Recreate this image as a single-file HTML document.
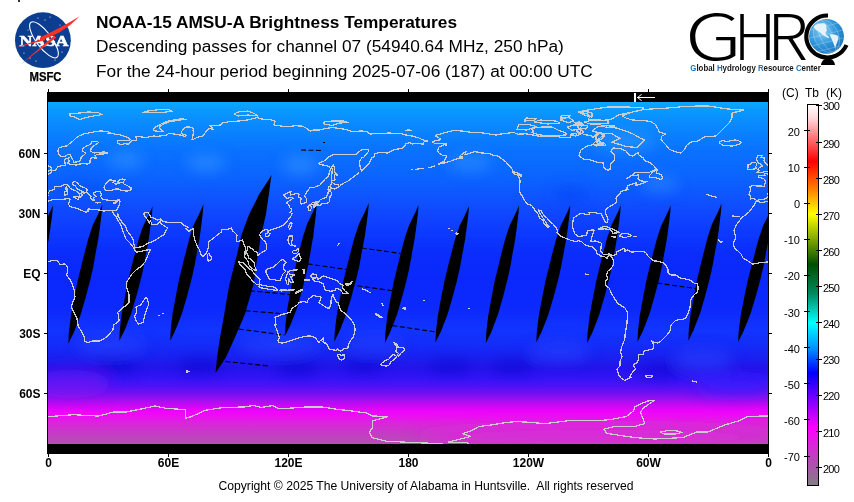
<!DOCTYPE html>
<html><head><meta charset="utf-8">
<style>
html,body{margin:0;padding:0;background:#fff;width:854px;height:502px;overflow:hidden}
svg{display:block}
</style></head>
<body>
<svg width="854" height="502" viewBox="0 0 854 502" font-family="'Liberation Sans', Arial, sans-serif">
<defs>
<linearGradient id="bg" x1="0" y1="102" x2="0" y2="444" gradientUnits="userSpaceOnUse">
<stop offset="0.0000" stop-color="#0aa8ff"/>
<stop offset="0.0234" stop-color="#0a9aff"/>
<stop offset="0.0526" stop-color="#0a8eff"/>
<stop offset="0.0965" stop-color="#0a80ff"/>
<stop offset="0.1404" stop-color="#0a72ff"/>
<stop offset="0.1842" stop-color="#0a6aff"/>
<stop offset="0.2281" stop-color="#0c62ff"/>
<stop offset="0.2719" stop-color="#0e56ff"/>
<stop offset="0.3304" stop-color="#1046ff"/>
<stop offset="0.3889" stop-color="#0c38ff"/>
<stop offset="0.4474" stop-color="#0a2cfc"/>
<stop offset="0.5205" stop-color="#0a28fc"/>
<stop offset="0.6082" stop-color="#0c2afc"/>
<stop offset="0.6667" stop-color="#1234ff"/>
<stop offset="0.7105" stop-color="#142cf8"/>
<stop offset="0.7485" stop-color="#1a20f0"/>
<stop offset="0.7778" stop-color="#2414ea"/>
<stop offset="0.8041" stop-color="#3014f6"/>
<stop offset="0.8304" stop-color="#4c12f6"/>
<stop offset="0.8509" stop-color="#7010f2"/>
<stop offset="0.8684" stop-color="#9810f0"/>
<stop offset="0.8860" stop-color="#c808f4"/>
<stop offset="0.9064" stop-color="#f004fc"/>
<stop offset="0.9240" stop-color="#e814ee"/>
<stop offset="0.9415" stop-color="#d828d8"/>
<stop offset="0.9766" stop-color="#c040c0"/>
<stop offset="1.0000" stop-color="#b450b4"/>
</linearGradient>
<linearGradient id="cb" x1="0" y1="104" x2="0" y2="486" gradientUnits="userSpaceOnUse">
<stop offset="0" stop-color="#ffffff"/>
<stop offset="0.035" stop-color="#ffdce0"/>
<stop offset="0.15" stop-color="#ff0000"/>
<stop offset="0.223" stop-color="#ff8000"/>
<stop offset="0.288" stop-color="#ffff00"/>
<stop offset="0.42" stop-color="#005000"/>
<stop offset="0.497" stop-color="#008a60"/>
<stop offset="0.573" stop-color="#00ffff"/>
<stop offset="0.64" stop-color="#0090ff"/>
<stop offset="0.704" stop-color="#0000ff"/>
<stop offset="0.848" stop-color="#ff00ff"/>
<stop offset="1" stop-color="#808080"/>
</linearGradient>
<filter id="blur" x="-20%" y="-20%" width="140%" height="140%"><feGaussianBlur stdDeviation="7"/></filter>
<clipPath id="mapclip"><rect x="48" y="102" width="720" height="342"/></clipPath>
</defs>

<!-- NASA logo -->
<rect x="18" y="0" width="2" height="2" fill="#333"/>
<circle cx="42.9" cy="40.2" r="27.9" fill="#0b3d91"/>
<g fill="#fff"><circle cx="38" cy="18" r="0.6"/><circle cx="45" cy="20" r="0.6"/><circle cx="50" cy="17" r="0.6"/><circle cx="24" cy="53" r="0.6"/><circle cx="30" cy="58" r="0.6"/><circle cx="36" cy="61" r="0.6"/><circle cx="62" cy="52" r="0.6"/><circle cx="55" cy="60" r="0.6"/><circle cx="28" cy="30" r="0.5"/><circle cx="60" cy="25" r="0.5"/></g>
<ellipse cx="44" cy="39.8" rx="21.8" ry="7.6" transform="rotate(53.4 44 39.8)" fill="none" stroke="#fff" stroke-width="1.1"/>
<text x="19.5" y="45.6" font-family="'Liberation Serif', serif" font-weight="bold" font-size="14.8" fill="#fff" stroke="#fff" stroke-width="0.5" textLength="49" lengthAdjust="spacingAndGlyphs">NASA</text>
<path d="M79.8,16.2 Q62,27 40,37.5 L40,40 Q61.5,35 79.8,16.2Z M45,38 L13.1,48.3 L45,40.2Z M54.3,35.4 L20.6,64.5 L56.3,37.4Z" fill="#f83224"/>
<text x="45.5" y="80.7" font-weight="bold" font-size="12" fill="#000" stroke="#000" stroke-width="0.25" text-anchor="middle" textLength="32" lengthAdjust="spacingAndGlyphs">MSFC</text>

<!-- Titles -->
<text x="96" y="28" font-weight="bold" font-size="17.27" fill="#000">NOAA-15 AMSU-A Brightness Temperatures</text>
<text x="96" y="52" font-size="17.3" fill="#000">Descending passes for channel 07 (54940.64 MHz, 250 hPa)</text>
<text x="96" y="77" font-size="17.25" fill="#000">For the 24-hour period beginning 2025-07-06 (187) at 00:00 UTC</text>

<!-- GHRC logo -->
<g font-family="'Noto Sans CJK JP', 'DejaVu Sans', sans-serif" font-weight="300" font-size="63" fill="#000">
<text x="685" y="60" textLength="57" lengthAdjust="spacingAndGlyphs">G</text>
<text x="734" y="60" textLength="42" lengthAdjust="spacingAndGlyphs">H</text>
<text x="767" y="60" textLength="41" lengthAdjust="spacingAndGlyphs">R</text>
</g>
<path d="M828,15.5 A21,21 0 1 0 846.5,45.0" fill="none" stroke="#000" stroke-width="4.2"/>
<defs><radialGradient id="globe" cx="0.38" cy="0.35" r="0.7"><stop offset="0" stop-color="#86cdf2"/><stop offset="0.55" stop-color="#3298dc"/><stop offset="1" stop-color="#1a74bc"/></radialGradient></defs>
<circle cx="826.5" cy="36.3" r="17.4" fill="url(#globe)"/>
<g fill="none" stroke="#fff" stroke-width="0.6" opacity="0.4">
<ellipse cx="826.5" cy="36.3" rx="6" ry="17.2" transform="rotate(-25 826.5 36.3)"/>
<ellipse cx="826.5" cy="36.3" rx="12" ry="17.2" transform="rotate(-25 826.5 36.3)"/>
<path d="M811,30 L842,22 M810,38 L843,30 M812,46 L843,38 M816,52 L840,46"/>
</g>
<path d="M813.5,27 C815,24 820,22.5 825,23.5 C827,25 826,28 827,30.5 C825.5,32 825,33.5 826.5,35 L829.5,37.5 L828,38 C825,36.5 822,34.5 820,32.5 C817.5,31 815,29.5 813.5,27Z M829.5,34.5 C832,33.8 836.5,34.2 838.5,36.5 C838.5,40 836.5,43.5 835,48 C834,44.5 832,39.5 829.5,34.5Z" fill="#e6f2fa"/>
<path d="M821,65 C821.5,61 824,58.5 828,58.5 C832,58.5 834.5,61 835,65Z" fill="#000"/>
<text x="690.3" y="70.9" font-weight="bold" font-size="8.4" fill="#151515" textLength="130.5" lengthAdjust="spacingAndGlyphs"><tspan fill="#1f72ba">G</tspan>lobal <tspan fill="#1f72ba">H</tspan>ydrology <tspan fill="#1f72ba">R</tspan>esource <tspan fill="#1f72ba">C</tspan>enter</text>

<!-- Map -->
<rect x="47" y="92" width="722" height="362" fill="#000"/>
<g clip-path="url(#mapclip)">
<rect x="48" y="102" width="720" height="342" fill="url(#bg)"/>
<g filter="url(#blur)"><ellipse cx="126" cy="160" rx="18" ry="9" fill="#3a9cff" opacity="0.5"/><ellipse cx="206" cy="163" rx="20" ry="9" fill="#3a9cff" opacity="0.5"/><ellipse cx="300" cy="165" rx="18" ry="10" fill="#3a9cff" opacity="0.5"/><ellipse cx="470" cy="163" rx="22" ry="9" fill="#3a9cff" opacity="0.45"/><ellipse cx="660" cy="184" rx="18" ry="9" fill="#3a9cff" opacity="0.4"/><ellipse cx="625" cy="142" rx="30" ry="9" fill="#3aa4ff" opacity="0.45"/><ellipse cx="80" cy="190" rx="30" ry="10" fill="#0848e8" opacity="0.35"/><ellipse cx="570" cy="195" rx="18" ry="10" fill="#0840f0" opacity="0.35"/><ellipse cx="111" cy="345" rx="35" ry="10" fill="#2a48ff" opacity="0.5"/><ellipse cx="280" cy="345" rx="40" ry="10" fill="#2a48ff" opacity="0.5"/><ellipse cx="375" cy="345" rx="30" ry="9" fill="#2a48ff" opacity="0.45"/><ellipse cx="560" cy="352" rx="30" ry="10" fill="#2a48ff" opacity="0.5"/><ellipse cx="703" cy="360" rx="30" ry="12" fill="#2a48ff" opacity="0.5"/><ellipse cx="115" cy="366" rx="22" ry="7" fill="#0808c8" opacity="0.5"/><ellipse cx="200" cy="366" rx="22" ry="7" fill="#0808c8" opacity="0.5"/><ellipse cx="297" cy="368" rx="22" ry="7" fill="#0808c8" opacity="0.5"/><ellipse cx="364" cy="366" rx="20" ry="7" fill="#0808c8" opacity="0.45"/><ellipse cx="450" cy="367" rx="22" ry="7" fill="#0808c8" opacity="0.45"/><ellipse cx="513" cy="367" rx="22" ry="7" fill="#0808c8" opacity="0.45"/><ellipse cx="661" cy="372" rx="22" ry="7" fill="#0808c8" opacity="0.45"/><ellipse cx="70" cy="384" rx="40" ry="14" fill="#8c1cf0" opacity="0.45"/><ellipse cx="600" cy="437" rx="185" ry="12" fill="#e81ce8" opacity="0.6"/><ellipse cx="735" cy="386" rx="40" ry="10" fill="#3020ff" opacity="0.5"/></g>
<path d="M102.3,204.6 100.8,208.1 99.4,211.6 97.8,215.0 96.0,218.5 94.3,222.0 92.6,225.5 91.5,229.0 90.4,232.4 89.2,235.9 88.1,239.4 87.2,242.9 86.3,246.4 85.4,249.8 84.5,253.3 83.6,256.8 82.7,260.3 81.8,263.8 81.0,267.2 80.1,270.7 79.3,274.2 78.4,277.7 77.6,281.2 76.9,284.6 76.2,288.1 75.5,291.6 74.8,295.1 74.1,298.6 73.5,302.0 72.8,305.5 72.2,309.0 71.5,312.5 70.9,316.0 70.5,319.4 70.0,322.9 69.6,326.4 69.2,329.9 68.8,333.4 68.6,336.8 68.5,340.3 68.3,343.8 68.3,343.8 70.0,340.3 71.7,336.8 73.4,333.4 74.8,329.9 76.2,326.4 77.5,322.9 78.9,319.4 80.2,316.0 81.3,312.5 82.3,309.0 83.3,305.5 84.3,302.0 85.4,298.6 86.3,295.1 87.2,291.6 88.1,288.1 89.1,284.6 90.0,281.2 90.8,277.7 91.6,274.2 92.4,270.7 93.2,267.2 93.8,263.8 94.4,260.3 95.0,256.8 95.6,253.3 96.3,249.8 96.9,246.4 97.6,242.9 98.2,239.4 98.7,235.9 99.2,232.4 99.7,229.0 100.2,225.5 100.6,222.0 101.0,218.5 101.5,215.0 101.8,211.6 102.1,208.1Z M152.5,206.3 151.1,209.7 149.6,213.0 148.0,216.4 146.3,219.8 144.6,223.1 143.0,226.5 141.8,229.8 140.7,233.2 139.6,236.6 138.5,239.9 137.6,243.3 136.7,246.7 135.8,250.0 135.0,253.4 134.1,256.7 133.2,260.1 132.4,263.5 131.5,266.8 130.7,270.2 129.9,273.6 129.0,276.9 128.2,280.3 127.5,283.6 126.9,287.0 126.2,290.4 125.5,293.7 124.9,297.1 124.3,300.5 123.6,303.8 123.0,307.2 122.4,310.5 121.7,313.9 121.3,317.3 120.9,320.6 120.5,324.0 120.1,327.4 119.8,330.7 119.6,334.1 119.5,337.4 119.3,340.8 119.3,340.8 121.0,337.4 122.7,334.1 124.4,330.7 125.8,327.4 127.1,324.0 128.4,320.6 129.7,317.3 131.1,313.9 132.1,310.5 133.1,307.2 134.1,303.8 135.1,300.5 136.1,297.1 137.0,293.7 137.9,290.4 138.8,287.0 139.7,283.6 140.6,280.3 141.4,276.9 142.2,273.6 142.9,270.2 143.7,266.8 144.3,263.5 144.9,260.1 145.5,256.7 146.1,253.4 146.8,250.0 147.4,246.7 148.0,243.3 148.6,239.9 149.1,236.6 149.6,233.2 150.0,229.8 150.5,226.5 150.9,223.1 151.3,219.8 151.7,216.4 152.1,213.0 152.3,209.7Z M203.4,204.2 202.0,207.6 200.5,211.0 198.9,214.4 197.2,217.9 195.5,221.3 193.9,224.7 192.7,228.1 191.6,231.5 190.5,234.9 189.4,238.3 188.5,241.8 187.6,245.2 186.7,248.6 185.9,252.0 185.0,255.4 184.1,258.8 183.3,262.3 182.4,265.7 181.6,269.1 180.8,272.5 179.9,275.9 179.1,279.3 178.4,282.7 177.8,286.2 177.1,289.6 176.4,293.0 175.8,296.4 175.2,299.8 174.5,303.2 173.9,306.6 173.3,310.1 172.6,313.5 172.2,316.9 171.8,320.3 171.4,323.7 171.0,327.1 170.7,330.6 170.5,334.0 170.4,337.4 170.2,340.8 170.2,340.8 171.9,337.4 173.6,334.0 175.3,330.6 176.7,327.1 178.0,323.7 179.3,320.3 180.6,316.9 182.0,313.5 183.0,310.1 184.0,306.6 185.0,303.2 186.0,299.8 187.0,296.4 187.9,293.0 188.8,289.6 189.7,286.2 190.6,282.7 191.5,279.3 192.3,275.9 193.1,272.5 193.8,269.1 194.6,265.7 195.2,262.3 195.8,258.8 196.4,255.4 197.0,252.0 197.7,248.6 198.3,245.2 198.9,241.8 199.5,238.3 200.0,234.9 200.5,231.5 200.9,228.1 201.4,224.7 201.8,221.3 202.2,217.9 202.6,214.4 203.0,211.0 203.2,207.6Z M271.5,175.0 268.4,179.9 265.2,184.9 262.1,189.8 258.9,194.8 256.5,199.7 254.0,204.7 251.5,209.6 249.1,214.6 247.2,219.5 245.3,224.5 243.5,229.4 241.6,234.4 240.5,239.3 239.3,244.3 238.2,249.2 237.1,254.2 235.8,259.1 234.6,264.1 233.4,269.0 232.1,273.9 230.8,278.9 229.6,283.8 228.6,288.8 227.7,293.7 226.9,298.7 226.0,303.6 225.2,308.6 224.4,313.5 223.5,318.5 222.6,323.4 221.7,328.4 220.8,333.3 219.9,338.3 219.2,343.2 218.4,348.2 217.7,353.1 217.0,358.1 216.5,363.0 216.0,368.0 215.5,372.9 215.5,372.9 218.8,368.0 222.2,363.0 225.5,358.1 227.9,353.1 230.1,348.2 232.3,343.2 234.6,338.3 236.7,333.3 238.9,328.4 241.0,323.4 243.1,318.5 245.2,313.5 246.6,308.6 248.0,303.6 249.5,298.7 250.9,293.7 252.2,288.8 253.6,283.8 254.4,278.9 254.8,273.9 255.5,269.0 256.3,264.1 257.2,259.1 258.0,254.2 258.8,249.2 259.6,244.3 260.4,239.3 261.3,234.4 262.4,229.4 263.6,224.5 264.7,219.5 265.9,214.6 266.6,209.6 267.3,204.7 268.1,199.7 268.8,194.8 269.5,189.8 270.1,184.9 270.8,179.9Z M316.6,203.6 315.2,206.9 313.8,210.2 312.2,213.5 310.6,216.8 309.0,220.1 307.3,223.4 306.2,226.7 305.2,230.0 304.1,233.3 303.0,236.7 302.2,240.0 301.3,243.3 300.5,246.6 299.6,249.9 298.8,253.2 298.0,256.5 297.2,259.8 296.4,263.1 295.6,266.4 294.8,269.7 294.0,273.0 293.2,276.3 292.6,279.6 292.0,282.9 291.4,286.2 290.7,289.5 290.1,292.8 289.5,296.1 289.0,299.4 288.4,302.8 287.8,306.1 287.2,309.4 286.8,312.7 286.5,316.0 286.1,319.3 285.7,322.6 285.4,325.9 285.3,329.2 285.2,332.5 285.1,335.8 285.1,335.8 286.7,332.5 288.4,329.2 290.0,325.9 291.4,322.6 292.7,319.3 294.0,316.0 295.2,312.7 296.5,309.4 297.5,306.1 298.5,302.8 299.4,299.4 300.4,296.1 301.3,292.8 302.2,289.5 303.1,286.2 303.9,282.9 304.8,279.6 305.7,276.3 306.4,273.0 307.1,269.7 307.9,266.4 308.6,263.1 309.1,259.8 309.7,256.5 310.3,253.2 310.8,249.9 311.4,246.6 312.0,243.3 312.6,240.0 313.2,236.7 313.6,233.3 314.0,230.0 314.4,226.7 314.8,223.4 315.2,220.1 315.6,216.8 316.0,213.5 316.3,210.2 316.4,206.9Z M368.8,202.9 367.3,206.4 365.8,209.8 364.2,213.3 362.5,216.8 360.8,220.3 359.1,223.8 357.9,227.2 356.8,230.7 355.6,234.2 354.4,237.7 353.5,241.1 352.6,244.6 351.7,248.1 350.8,251.6 349.9,255.0 349.0,258.5 348.1,262.0 347.2,265.4 346.3,268.9 345.5,272.4 344.6,275.9 343.7,279.4 343.0,282.8 342.3,286.3 341.6,289.8 340.9,293.2 340.2,296.7 339.6,300.2 338.9,303.7 338.2,307.1 337.6,310.6 336.9,314.1 336.5,317.6 336.0,321.1 335.6,324.5 335.2,328.0 334.8,331.5 334.6,334.9 334.4,338.4 334.2,341.9 334.2,341.9 335.9,338.4 337.6,334.9 339.4,331.5 340.8,328.0 342.2,324.5 343.5,321.1 344.9,317.6 346.2,314.1 347.3,310.6 348.3,307.1 349.4,303.7 350.4,300.2 351.5,296.7 352.4,293.2 353.3,289.8 354.3,286.3 355.2,282.8 356.2,279.4 357.0,275.9 357.8,272.4 358.6,268.9 359.4,265.4 360.0,262.0 360.7,258.5 361.3,255.0 361.9,251.6 362.6,248.1 363.3,244.6 363.9,241.1 364.6,237.7 365.1,234.2 365.6,230.7 366.1,227.2 366.6,223.8 367.0,220.3 367.5,216.8 367.9,213.3 368.3,209.8 368.6,206.4Z M418.5,205.0 417.0,208.4 415.6,211.9 414.0,215.3 412.3,218.8 410.6,222.2 408.9,225.7 407.8,229.1 406.6,232.6 405.5,236.0 404.4,239.5 403.5,242.9 402.6,246.4 401.7,249.8 400.8,253.3 399.9,256.7 399.1,260.2 398.2,263.6 397.3,267.1 396.5,270.5 395.7,273.9 394.8,277.4 394.0,280.8 393.3,284.3 392.6,287.7 392.0,291.2 391.3,294.6 390.6,298.1 390.0,301.5 389.3,305.0 388.7,308.4 388.0,311.9 387.4,315.3 387.0,318.8 386.6,322.2 386.2,325.7 385.8,329.1 385.4,332.6 385.2,336.0 385.1,339.5 384.9,342.9 384.9,342.9 386.6,339.5 388.3,336.0 390.0,332.6 391.4,329.1 392.7,325.7 394.1,322.2 395.4,318.8 396.8,315.3 397.8,311.9 398.8,308.4 399.8,305.0 400.8,301.5 401.8,298.1 402.8,294.6 403.7,291.2 404.6,287.7 405.5,284.3 406.4,280.8 407.2,277.4 408.0,273.9 408.8,270.5 409.5,267.1 410.1,263.6 410.8,260.2 411.4,256.7 412.0,253.3 412.6,249.8 413.3,246.4 413.9,242.9 414.5,239.5 415.0,236.0 415.5,232.6 416.0,229.1 416.4,225.7 416.9,222.2 417.3,218.8 417.7,215.3 418.1,211.9 418.3,208.4Z M468.9,206.0 467.4,209.4 466.0,212.8 464.4,216.2 462.7,219.7 461.0,223.1 459.3,226.5 458.2,229.9 457.1,233.3 455.9,236.7 454.8,240.2 453.9,243.6 453.0,247.0 452.1,250.4 451.2,253.8 450.4,257.2 449.5,260.6 448.6,264.1 447.8,267.5 446.9,270.9 446.1,274.3 445.3,277.7 444.4,281.1 443.8,284.5 443.1,288.0 442.4,291.4 441.7,294.8 441.1,298.2 440.4,301.6 439.8,305.0 439.2,308.5 438.5,311.9 437.9,315.3 437.5,318.7 437.1,322.1 436.7,325.5 436.2,328.9 435.9,332.4 435.7,335.8 435.6,339.2 435.4,342.6 435.4,342.6 437.1,339.2 438.8,335.8 440.5,332.4 441.9,328.9 443.2,325.5 444.6,322.1 445.9,318.7 447.2,315.3 448.2,311.9 449.3,308.5 450.3,305.0 451.3,301.6 452.3,298.2 453.2,294.8 454.1,291.4 455.0,288.0 456.0,284.5 456.9,281.1 457.6,277.7 458.4,274.3 459.2,270.9 460.0,267.5 460.6,264.1 461.2,260.6 461.8,257.2 462.4,253.8 463.1,250.4 463.7,247.0 464.3,243.6 465.0,240.2 465.4,236.7 465.9,233.3 466.4,229.9 466.8,226.5 467.3,223.1 467.7,219.7 468.1,216.2 468.5,212.8 468.7,209.4Z M519.0,205.3 517.6,208.7 516.1,212.2 514.5,215.6 512.8,219.1 511.1,222.5 509.5,226.0 508.3,229.4 507.2,232.9 506.1,236.3 505.0,239.8 504.1,243.2 503.2,246.7 502.3,250.1 501.5,253.6 500.6,257.0 499.7,260.5 498.9,263.9 498.0,267.4 497.2,270.8 496.4,274.2 495.5,277.7 494.7,281.1 494.0,284.6 493.4,288.0 492.7,291.5 492.0,294.9 491.4,298.4 490.8,301.8 490.1,305.3 489.5,308.7 488.9,312.2 488.2,315.6 487.8,319.1 487.4,322.5 487.0,326.0 486.6,329.4 486.3,332.9 486.1,336.3 486.0,339.8 485.8,343.2 485.8,343.2 487.5,339.8 489.2,336.3 490.9,332.9 492.3,329.4 493.6,326.0 494.9,322.5 496.2,319.1 497.6,315.6 498.6,312.2 499.6,308.7 500.6,305.3 501.6,301.8 502.6,298.4 503.5,294.9 504.4,291.5 505.3,288.0 506.2,284.6 507.1,281.1 507.9,277.7 508.7,274.2 509.4,270.8 510.2,267.4 510.8,263.9 511.4,260.5 512.0,257.0 512.6,253.6 513.3,250.1 513.9,246.7 514.5,243.2 515.1,239.8 515.6,236.3 516.1,232.9 516.5,229.4 517.0,226.0 517.4,222.5 517.8,219.1 518.2,215.6 518.6,212.2 518.8,208.7Z M570.2,205.3 568.7,208.7 567.3,212.2 565.7,215.6 564.0,219.0 562.3,222.5 560.6,225.9 559.4,229.3 558.3,232.7 557.2,236.2 556.0,239.6 555.1,243.0 554.2,246.5 553.3,249.9 552.4,253.3 551.5,256.8 550.7,260.2 549.8,263.6 548.9,267.0 548.1,270.5 547.2,273.9 546.4,277.3 545.5,280.8 544.8,284.2 544.2,287.6 543.5,291.1 542.8,294.5 542.1,297.9 541.5,301.3 540.8,304.8 540.2,308.2 539.5,311.6 538.9,315.1 538.4,318.5 538.0,321.9 537.6,325.4 537.2,328.8 536.8,332.2 536.6,335.6 536.5,339.1 536.3,342.5 536.3,342.5 538.0,339.1 539.7,335.6 541.4,332.2 542.8,328.8 544.2,325.4 545.5,321.9 546.9,318.5 548.2,315.1 549.2,311.6 550.3,308.2 551.3,304.8 552.3,301.3 553.3,297.9 554.3,294.5 555.2,291.1 556.1,287.6 557.0,284.2 557.9,280.8 558.7,277.3 559.5,273.9 560.3,270.5 561.1,267.0 561.7,263.6 562.3,260.2 563.0,256.8 563.6,253.3 564.2,249.9 564.9,246.5 565.5,243.0 566.2,239.6 566.6,236.2 567.1,232.7 567.6,229.3 568.1,225.9 568.5,222.5 569.0,219.0 569.4,215.6 569.7,212.2 570.0,208.7Z M620.7,205.3 619.2,208.7 617.8,212.2 616.2,215.6 614.5,219.1 612.8,222.5 611.1,226.0 610.0,229.4 608.9,232.9 607.7,236.3 606.6,239.8 605.7,243.2 604.8,246.7 603.9,250.1 603.0,253.6 602.1,257.0 601.3,260.5 600.4,263.9 599.5,267.4 598.7,270.8 597.9,274.2 597.0,277.7 596.2,281.1 595.5,284.6 594.8,288.0 594.2,291.5 593.5,294.9 592.8,298.4 592.2,301.8 591.5,305.3 590.9,308.7 590.2,312.2 589.6,315.6 589.2,319.1 588.8,322.5 588.4,326.0 588.0,329.4 587.6,332.9 587.4,336.3 587.3,339.8 587.1,343.2 587.1,343.2 588.8,339.8 590.5,336.3 592.2,332.9 593.6,329.4 594.9,326.0 596.3,322.5 597.6,319.1 599.0,315.6 600.0,312.2 601.0,308.7 602.0,305.3 603.0,301.8 604.0,298.4 605.0,294.9 605.9,291.5 606.8,288.0 607.7,284.6 608.6,281.1 609.4,277.7 610.2,274.2 611.0,270.8 611.7,267.4 612.3,263.9 613.0,260.5 613.6,257.0 614.2,253.6 614.8,250.1 615.5,246.7 616.1,243.2 616.7,239.8 617.2,236.3 617.7,232.9 618.2,229.4 618.6,226.0 619.1,222.5 619.5,219.1 619.9,215.6 620.3,212.2 620.5,208.7Z M670.7,205.3 669.3,208.7 667.8,212.1 666.2,215.5 664.5,219.0 662.8,222.4 661.2,225.8 660.0,229.2 658.9,232.6 657.8,236.0 656.7,239.4 655.8,242.9 654.9,246.3 654.0,249.7 653.2,253.1 652.3,256.5 651.4,259.9 650.6,263.4 649.7,266.8 648.9,270.2 648.1,273.6 647.2,277.0 646.4,280.4 645.7,283.8 645.1,287.3 644.4,290.7 643.7,294.1 643.1,297.5 642.5,300.9 641.8,304.3 641.2,307.8 640.6,311.2 639.9,314.6 639.5,318.0 639.1,321.4 638.7,324.8 638.3,328.2 638.0,331.7 637.8,335.1 637.7,338.5 637.5,341.9 637.5,341.9 639.2,338.5 640.9,335.1 642.6,331.7 644.0,328.2 645.3,324.8 646.6,321.4 647.9,318.0 649.3,314.6 650.3,311.2 651.3,307.8 652.3,304.3 653.3,300.9 654.3,297.5 655.2,294.1 656.1,290.7 657.0,287.3 657.9,283.8 658.8,280.4 659.6,277.0 660.4,273.6 661.1,270.2 661.9,266.8 662.5,263.4 663.1,259.9 663.7,256.5 664.3,253.1 665.0,249.7 665.6,246.3 666.2,242.9 666.8,239.4 667.3,236.0 667.8,232.6 668.2,229.2 668.7,225.8 669.1,222.4 669.5,219.0 669.9,215.5 670.3,212.1 670.5,208.7Z M721.5,203.6 720.1,207.0 718.6,210.5 717.0,213.9 715.3,217.3 713.6,220.8 712.0,224.2 710.8,227.6 709.7,231.0 708.6,234.5 707.5,237.9 706.6,241.3 705.7,244.8 704.8,248.2 704.0,251.6 703.1,255.1 702.2,258.5 701.4,261.9 700.5,265.3 699.7,268.8 698.9,272.2 698.0,275.6 697.2,279.1 696.5,282.5 695.9,285.9 695.2,289.4 694.5,292.8 693.9,296.2 693.3,299.6 692.6,303.1 692.0,306.5 691.4,309.9 690.7,313.4 690.3,316.8 689.9,320.2 689.5,323.6 689.1,327.1 688.8,330.5 688.6,333.9 688.5,337.4 688.3,340.8 688.3,340.8 690.0,337.4 691.7,333.9 693.4,330.5 694.8,327.1 696.1,323.6 697.4,320.2 698.7,316.8 700.1,313.4 701.1,309.9 702.1,306.5 703.1,303.1 704.1,299.6 705.1,296.2 706.0,292.8 706.9,289.4 707.8,285.9 708.7,282.5 709.6,279.1 710.4,275.6 711.2,272.2 711.9,268.8 712.7,265.3 713.3,261.9 713.9,258.5 714.5,255.1 715.1,251.6 715.8,248.2 716.4,244.8 717.0,241.3 717.6,237.9 718.1,234.5 718.6,231.0 719.0,227.6 719.5,224.2 719.9,220.8 720.3,217.3 720.7,213.9 721.1,210.5 721.3,207.0Z M773.0,205.0 771.5,208.4 770.0,211.8 768.4,215.3 766.7,218.7 764.9,222.1 763.2,225.6 762.0,229.0 760.9,232.4 759.7,235.8 758.6,239.2 757.6,242.7 756.7,246.1 755.8,249.5 754.9,252.9 754.0,256.4 753.1,259.8 752.2,263.2 751.3,266.6 750.4,270.1 749.5,273.5 748.6,276.9 747.8,280.4 747.1,283.8 746.4,287.2 745.6,290.6 744.9,294.1 744.2,297.5 743.6,300.9 742.9,304.3 742.2,307.8 741.5,311.2 740.9,314.6 740.4,318.0 740.0,321.5 739.5,324.9 739.1,328.3 738.7,331.7 738.5,335.1 738.3,338.6 738.1,342.0 738.1,342.0 739.8,338.6 741.6,335.1 743.3,331.7 744.7,328.3 746.1,324.9 747.5,321.5 748.8,318.0 750.2,314.6 751.3,311.2 752.3,307.8 753.4,304.3 754.4,300.9 755.4,297.5 756.4,294.1 757.4,290.6 758.3,287.2 759.2,283.8 760.2,280.4 761.0,276.9 761.8,273.5 762.6,270.1 763.5,266.6 764.1,263.2 764.7,259.8 765.4,256.4 766.0,252.9 766.7,249.5 767.4,246.1 768.0,242.7 768.7,239.2 769.2,235.8 769.7,232.4 770.2,229.0 770.7,225.6 771.2,222.1 771.7,218.7 772.1,215.3 772.5,211.8 772.7,208.4Z M53.0,205.0 51.5,208.4 50.0,211.8 48.4,215.3 46.7,218.7 44.9,222.1 43.2,225.6 42.0,229.0 40.9,232.4 39.7,235.8 38.6,239.2 37.6,242.7 36.7,246.1 35.8,249.5 34.9,252.9 34.0,256.4 33.1,259.8 32.2,263.2 31.3,266.6 30.4,270.1 29.5,273.5 28.6,276.9 27.8,280.4 27.1,283.8 26.4,287.2 25.6,290.6 24.9,294.1 24.2,297.5 23.6,300.9 22.9,304.3 22.2,307.8 21.5,311.2 20.9,314.6 20.4,318.0 20.0,321.5 19.5,324.9 19.1,328.3 18.7,331.7 18.5,335.1 18.3,338.6 18.1,342.0 18.1,342.0 19.8,338.6 21.6,335.1 23.3,331.7 24.7,328.3 26.1,324.9 27.5,321.5 28.8,318.0 30.2,314.6 31.3,311.2 32.3,307.8 33.4,304.3 34.4,300.9 35.4,297.5 36.4,294.1 37.4,290.6 38.3,287.2 39.2,283.8 40.2,280.4 41.0,276.9 41.8,273.5 42.6,270.1 43.5,266.6 44.1,263.2 44.7,259.8 45.4,256.4 46.0,252.9 46.7,249.5 47.4,246.1 48.0,242.7 48.7,239.2 49.2,235.8 49.7,232.4 50.2,229.0 50.7,225.6 51.2,222.1 51.7,218.7 52.1,215.3 52.5,211.8 52.7,208.4Z" fill="#000"/>
<path d="M307.7,263.9 L346.5,269.5 M361.8,248 L401.2,253.5 M357.4,285.8 L393.3,290.8 M250,290.8 L291.8,294.7 M245.6,310.8 L287.3,314 M238.9,329.1 L284.6,335 M392.4,325.6 L438.2,332.3 M225.4,361.4 L268.5,366 M657.2,283.1 L696.6,288.7 M301,150 L322,150.5" stroke="#000" stroke-width="1.1" stroke-dasharray="5 2.5" fill="none"/>
<rect x="323" y="142" width="2" height="1" fill="#000"/>
<g fill="none" stroke="#cccccc" stroke-width="1.25" stroke-linejoin="round" shape-rendering="crispEdges"><path d="M36.2,201.4 34.4,205.0 28.8,212.2 22.0,217.6 16.0,225.2 14.0,231.0 16.0,237.0 13.2,243.6 14.6,248.0 18.0,251.0 21.0,254.0 23.0,258.0 28.0,261.0 33.0,264.2 40.0,262.6 48.0,262.0 52.0,260.4 57.0,260.4 60.0,264.4 65.0,264.0 67.0,266.0 67.6,271.0 66.6,275.0 71.6,282.0 72.6,285.0 74.4,291.0 75.0,297.0 72.0,304.0 71.6,308.0 77.0,318.8 78.4,327.0 81.0,330.2 84.8,338.0 84.8,341.2 88.0,342.6 93.0,341.0 99.2,341.0 103.8,339.0 108.0,335.6 112.8,330.0 113.8,325.0 119.0,321.0 118.6,315.0 117.4,312.6 121.6,308.8 129.0,303.0 129.0,294.0 126.6,287.0 126.6,282.2 129.8,277.2 132.0,274.0 136.0,270.0 141.0,266.4 145.0,262.0 147.6,256.0 150.4,249.4 145.0,250.4 137.0,252.2 134.6,249.8 133.0,247.0 130.0,243.0 126.0,239.0 124.4,235.0 122.4,230.0 121.0,225.0 118.4,221.0 116.0,217.0 113.2,213.2 112.6,210.4 108.0,210.4 104.0,211.0 98.0,209.8 88.0,209.0 88.0,211.4 86.0,212.4 79.0,209.2 70.4,206.6 68.4,204.4 70.0,199.2 68.0,198.4 64.0,199.2 54.0,199.4 46.0,201.6 43.0,202.6 36.2,201.4 M756.2,201.4 754.4,205.0 748.8,212.2 742.0,217.6 736.0,225.2 734.0,231.0 736.0,237.0 733.2,243.6 734.6,248.0 738.0,251.0 741.0,254.0 743.0,258.0 748.0,261.0 753.0,264.2 760.0,262.6 768.0,262.0 772.0,260.4 777.0,260.4 780.0,264.4 785.0,264.0 787.0,266.0 787.6,271.0 786.6,275.0 791.6,282.0 792.6,285.0 794.4,291.0 795.0,297.0 792.0,304.0 791.6,308.0 797.0,318.8 798.4,327.0 801.0,330.2 804.8,338.0 804.8,341.2 808.0,342.6 813.0,341.0 819.2,341.0 823.8,339.0 828.0,335.6 832.8,330.0 833.8,325.0 839.0,321.0 838.6,315.0 837.4,312.6 841.6,308.8 849.0,303.0 849.0,294.0 846.6,287.0 846.6,282.2 849.8,277.2 852.0,274.0 856.0,270.0 861.0,266.4 865.0,262.0 867.6,256.0 870.4,249.4 865.0,250.4 857.0,252.2 854.6,249.8 853.0,247.0 850.0,243.0 846.0,239.0 844.4,235.0 842.4,230.0 841.0,225.0 838.4,221.0 836.0,217.0 833.2,213.2 832.6,210.4 828.0,210.4 824.0,211.0 818.0,209.8 808.0,209.0 808.0,211.4 806.0,212.4 799.0,209.2 790.4,206.6 788.4,204.4 790.0,199.2 788.0,198.4 784.0,199.2 774.0,199.4 766.0,201.6 763.0,202.6 756.2,201.4 M415.0,169.4 420.0,168.8 424.0,168.4 M428.0,167.6 432.0,167.0 435.0,165.8 M411.0,169.6 413.0,169.2 M432.0,141.8 436.0,140.6 440.0,139.8 440.6,138.8 436.0,136.4 435.6,135.2 442.0,133.6 448.0,131.8 454.4,130.4 464.0,131.2 472.0,132.4 482.0,132.8 488.0,133.8 496.0,135.0 502.0,133.8 509.0,133.0 514.0,132.6 518.0,134.2 526.0,133.8 534.0,135.2 540.0,136.4 550.0,136.6 556.0,136.0 560.0,137.2 570.0,137.4 572.0,134.8 576.0,135.6 580.0,134.6 577.0,130.0 581.0,129.0 580.0,133.0 586.0,135.0 591.0,135.4 593.0,138.0 596.4,133.8 603.0,133.8 605.0,136.0 600.0,140.0 596.0,140.0 597.0,143.0 604.0,144.0 593.0,144.6 587.0,146.0 581.0,150.0 579.0,155.4 583.0,159.0 591.0,160.0 598.0,162.4 603.4,163.0 603.6,167.4 607.0,170.0 610.0,169.8 610.4,164.0 614.0,161.0 614.6,155.4 611.0,151.6 613.0,148.0 620.0,148.4 626.0,151.0 629.0,155.0 633.0,156.0 638.0,152.4 639.0,155.0 643.0,157.8 645.0,161.0 650.0,162.6 653.0,165.0 656.4,168.6 654.4,170.2 649.0,172.4 640.0,172.6 635.0,172.8 627.0,178.6 632.0,175.4 639.0,175.0 638.4,177.0 638.0,178.6 640.0,180.6 646.0,181.8 648.0,181.0 645.0,182.6 641.0,183.8 636.0,185.4 636.0,182.6 633.6,183.8 628.0,185.6 626.6,187.8 628.0,189.6 625.0,190.2 620.4,191.6 620.0,193.4 618.0,195.2 616.0,198.6 616.8,202.2 614.4,203.8 612.0,205.2 609.0,207.0 606.0,209.4 605.4,213.0 607.0,216.6 608.0,219.6 607.2,222.6 605.6,222.4 604.4,219.8 602.6,217.0 601.0,213.6 598.0,213.6 595.0,212.2 591.0,212.2 589.0,212.6 589.4,214.8 587.0,214.8 584.0,213.8 580.0,213.6 577.0,215.6 573.6,218.0 573.0,221.4 572.6,225.0 573.0,229.0 575.0,234.0 578.6,236.6 583.0,235.8 586.0,235.6 587.0,233.2 587.4,231.0 592.0,230.0 594.0,230.0 593.0,234.0 591.6,238.0 590.8,241.4 596.0,241.0 600.0,242.6 601.4,243.2 601.0,248.0 600.6,251.0 603.6,254.8 607.0,254.8 609.0,253.8 613.2,255.6 616.0,254.2 617.0,251.6 619.6,250.6 624.0,248.2 625.6,249.8 624.2,251.8 624.8,251.4 627.6,249.8 631.4,252.0 636.0,251.8 640.0,251.6 644.0,251.6 646.0,253.0 648.0,256.0 651.6,259.4 654.0,261.0 658.0,261.2 663.0,262.6 665.6,265.0 668.0,269.4 668.0,273.0 671.0,275.0 676.0,275.0 680.0,278.0 685.0,278.8 690.0,280.2 694.0,283.0 697.6,284.2 698.2,288.0 697.4,292.0 694.0,295.0 691.0,299.0 690.0,307.0 688.6,312.4 686.4,317.0 684.0,319.0 679.0,319.6 675.0,321.0 671.0,325.0 670.6,330.0 667.0,335.0 663.0,339.0 661.0,341.0 658.0,343.0 654.0,342.2 651.2,341.0 653.6,344.0 653.0,349.0 644.0,351.0 643.4,354.2 638.0,355.0 639.0,358.0 637.4,362.4 633.0,365.0 635.6,368.8 632.2,372.8 630.0,376.2 631.2,377.6 628.0,378.4 625.0,380.6 621.0,378.0 618.6,375.0 617.0,369.0 620.0,366.0 620.0,361.0 622.0,357.0 620.6,352.0 621.6,347.0 624.8,339.0 625.2,333.0 626.8,325.0 627.6,313.0 625.0,308.0 618.0,303.6 615.4,300.0 612.4,295.0 609.0,288.0 605.6,285.0 605.8,281.0 608.0,278.0 606.2,275.0 608.0,271.0 610.4,269.4 613.2,265.4 613.2,259.4 611.0,256.4 608.8,255.2 607.2,258.4 604.6,256.8 600.8,256.0 596.6,253.2 596.4,250.6 592.8,247.0 588.4,246.0 585.0,245.0 582.0,242.0 579.0,240.6 575.0,241.6 571.0,240.4 566.0,238.4 561.0,236.4 557.0,233.0 557.4,230.0 556.4,228.0 553.0,224.0 550.0,221.8 546.8,217.8 543.6,215.0 541.0,210.4 538.4,210.0 539.6,213.0 542.4,217.0 545.0,221.0 547.2,224.6 549.2,226.6 548.0,227.2 544.0,223.8 543.6,221.0 539.6,218.0 538.0,214.0 535.4,211.0 533.8,208.0 531.0,205.0 526.8,203.8 524.2,199.8 523.0,197.4 520.4,193.4 519.4,190.0 519.8,185.0 520.0,180.4 518.6,176.2 521.6,175.0 518.0,173.0 513.0,171.4 512.0,169.0 508.0,164.4 506.0,162.0 502.0,159.0 498.0,156.0 493.0,155.4 489.0,153.4 482.0,153.0 475.0,151.6 471.0,153.0 465.0,154.6 466.0,151.4 461.0,155.0 459.0,158.0 455.0,159.4 450.0,161.4 444.0,163.0 438.4,164.2 444.0,161.2 447.0,156.0 443.0,155.6 439.0,153.0 437.4,150.6 439.0,147.0 446.0,144.0 446.0,146.0 446.4,143.6 441.0,143.8 435.2,143.8 432.0,141.8 M40.0,416.7 48.0,416.7 73.3,414.7 98.6,416.1 114.0,411.9 126.7,411.9 140.7,409.1 154.8,406.0 166.0,408.3 185.7,409.7 185.7,418.1 191.3,416.7 205.4,410.2 222.3,407.7 244.7,406.9 253.2,405.5 261.6,407.4 272.8,405.5 278.5,408.3 288.0,408.3 307.7,406.9 321.7,406.9 335.8,409.1 352.6,411.1 366.7,413.0 372.3,415.9 387.8,416.7 372.3,420.9 372.3,427.9 369.5,432.2 372.3,437.8 386.4,441.2 414.5,442.6 434.2,443.4 451.0,444.8 467.9,444.8 467.9,442.8 448.2,442.0 470.7,436.4 462.3,433.6 470.7,430.8 479.1,426.5 490.4,425.1 501.6,423.2 515.7,421.5 528.0,422.2 544.9,423.6 567.3,420.8 598.3,420.8 612.3,419.3 626.4,416.5 633.4,410.9 634.8,406.7 640.4,403.9 647.4,401.1 654.5,400.2 643.2,408.1 640.4,412.3 643.2,419.3 644.6,423.6 634.8,426.4 615.1,426.4 603.9,429.2 606.7,433.4 634.8,437.6 654.5,439.0 682.6,437.6 696.6,432.0 707.9,432.0 724.7,425.0 738.8,420.8 747.2,416.5 766.9,415.9 776.0,416.2 M275.0,317.0 276.0,325.0 274.6,325.0 277.2,330.6 278.0,334.0 279.4,338.0 278.0,340.2 278.2,341.8 281.6,343.0 285.0,342.6 291.0,340.6 296.0,339.0 300.0,337.6 306.0,336.2 310.0,336.0 315.0,337.4 319.0,342.6 320.0,341.0 323.6,338.0 323.0,342.0 325.0,343.6 325.0,342.0 327.4,345.0 329.2,349.0 332.8,349.8 336.0,350.2 337.8,348.6 338.6,350.2 340.8,351.2 343.6,348.8 347.8,348.0 348.4,344.4 350.6,340.6 353.2,337.0 355.2,329.8 354.2,324.6 352.8,321.8 349.6,318.0 346.6,315.4 344.8,313.0 340.6,310.6 338.8,305.0 338.6,302.6 335.6,301.6 333.0,294.4 331.2,298.4 331.0,304.0 329.2,308.2 326.6,307.8 323.6,305.8 319.0,302.6 321.2,297.4 320.0,296.8 313.2,295.6 311.2,297.4 308.4,298.8 307.2,302.6 303.6,301.6 299.6,302.2 296.6,305.4 292.4,308.0 290.2,312.0 285.4,313.8 281.4,314.4 277.2,316.6 275.0,317.0 M592.0,117.0 584.0,115.0 578.0,112.0 584.0,111.0 592.0,113.0 592.0,117.0 M706.0,194.0 711.0,195.8 717.0,197.4 M644.8,140.0 637.0,147.4 626.0,146.6 618.0,144.0 612.0,142.4 620.0,138.4 612.0,133.8 600.0,133.0 592.0,131.0 598.0,126.4 608.0,125.6 616.0,128.0 626.0,131.0 634.0,134.4 640.0,138.0 644.8,140.0 M527.0,130.0 517.0,129.4 519.0,124.4 529.0,124.6 536.0,126.4 529.0,129.4 527.0,130.0 M574.0,121.0 568.0,122.6 560.0,120.0 568.0,117.0 574.0,121.0 M660.0,432.0 668.0,430.5 678.0,431.0 682.0,432.5 675.0,434.0 664.0,434.0 660.0,432.0 M105.8,190.4 110.0,190.8 115.0,189.0 118.2,189.0 123.0,190.8 127.0,191.0 131.0,190.0 131.2,187.8 128.0,186.0 124.0,184.0 123.0,182.8 125.0,179.4 122.0,179.0 118.4,180.6 117.4,182.4 119.0,182.6 121.0,182.2 120.0,183.0 117.0,184.0 115.0,184.0 113.0,182.2 115.2,181.0 111.6,180.0 109.4,180.0 107.4,182.4 105.2,184.6 103.8,187.6 105.8,190.4 M580.0,134.6 584.0,132.0 579.0,129.2 576.0,130.0 578.0,133.0 580.0,134.6 M266.0,270.0 267.2,269.0 271.0,268.0 274.0,266.6 277.0,264.0 280.0,261.0 282.6,259.4 286.4,262.6 284.0,264.4 283.6,269.0 286.0,271.0 283.0,274.0 281.0,278.0 280.6,280.6 277.0,280.8 274.0,279.2 271.4,279.4 268.4,278.8 268.0,276.0 266.0,273.0 266.0,270.0 M606.0,127.8 614.0,127.8 614.0,125.8 607.0,125.6 606.0,127.8 M732.0,215.8 735.0,216.4 737.0,217.0 740.0,216.0 M718.0,239.0 721.0,242.8 722.4,241.0 M576.0,124.0 582.0,123.6 580.0,122.0 575.0,122.4 576.0,124.0 M65.2,188.2 66.8,187.0 67.0,189.2 66.2,190.2 65.2,188.2 M95.0,202.4 100.6,202.6 97.0,203.0 M598.0,229.2 603.0,226.8 607.0,226.8 613.0,229.4 619.6,232.6 613.0,233.2 611.0,230.0 605.0,228.8 600.0,229.2 598.0,229.2 M112.6,202.8 117.0,201.8 115.6,203.6 112.6,202.8 M608.0,123.8 590.0,124.0 584.0,122.0 594.0,119.6 608.0,120.6 608.0,123.8 M588.0,120.0 604.0,120.4 612.0,119.0 618.0,115.0 628.0,113.0 642.0,110.0 644.0,108.0 628.0,107.0 608.0,107.0 588.0,110.0 578.0,112.0 588.0,114.0 590.0,116.0 588.0,120.0 M112.6,210.4 116.4,210.4 117.8,208.0 119.0,205.2 119.8,202.4 120.0,201.0 119.0,199.8 116.0,200.4 113.0,200.8 109.0,200.4 106.0,199.8 102.8,199.0 100.6,196.6 101.4,194.0 100.4,192.8 100.4,191.6 96.0,191.4 95.2,192.6 93.2,192.2 93.8,194.4 96.0,196.6 94.0,197.4 93.4,198.0 94.2,200.0 92.8,200.0 91.4,199.2 90.2,197.4 91.4,196.4 89.6,195.0 88.0,193.6 86.8,192.2 87.0,189.4 85.0,188.0 82.0,186.6 79.0,185.0 77.0,182.6 75.4,181.6 72.6,182.2 72.8,184.6 75.2,186.0 77.4,189.0 80.2,190.2 85.0,192.8 84.6,193.4 82.0,192.0 81.0,193.8 82.2,195.0 80.2,197.0 79.2,196.6 79.6,194.0 77.4,191.8 75.4,190.6 72.4,189.6 70.0,188.0 69.0,186.4 67.4,184.8 64.8,184.6 63.0,185.4 60.4,186.8 57.4,186.2 54.2,186.8 54.4,189.0 52.2,190.4 49.8,191.0 48.0,193.2 47.4,194.2 48.4,195.6 46.6,197.8 43.8,199.6 39.2,199.6 36.8,201.0 35.4,199.4 33.2,198.6 30.2,199.0 30.4,195.6 29.0,194.2 30.6,190.6 30.2,187.8 29.4,187.0 32.0,185.6 38.0,186.0 44.4,186.2 45.6,181.0 43.6,178.6 39.0,177.2 38.6,175.8 45.0,175.6 44.2,173.6 48.4,174.0 51.2,172.6 51.8,171.0 55.2,170.2 57.0,168.0 58.0,166.4 62.0,165.8 65.2,165.2 65.0,162.2 64.2,159.4 67.0,158.6 69.0,157.6 68.6,160.0 69.8,160.6 67.6,163.0 69.8,164.2 72.0,164.6 76.0,165.0 80.0,164.0 85.0,163.4 87.2,164.2 90.0,162.6 90.0,160.0 91.2,158.0 93.2,157.6 96.6,158.6 95.0,155.8 97.0,154.2 104.0,154.0 107.6,153.0 104.0,152.0 101.0,152.2 94.0,153.0 90.8,151.4 91.0,148.0 95.0,145.0 98.6,142.6 97.2,141.4 92.0,141.8 90.0,144.6 86.0,146.4 83.0,148.4 82.4,151.0 85.6,153.0 84.8,154.4 81.0,157.4 80.8,160.4 76.6,162.0 73.8,162.2 73.0,160.0 71.4,157.6 70.4,155.0 69.0,154.0 67.0,155.0 64.0,156.8 61.2,156.8 59.2,155.0 58.2,152.4 58.0,150.0 59.0,148.0 63.0,146.6 67.0,145.8 70.0,143.2 73.0,141.0 76.0,138.0 79.0,136.0 82.0,134.6 86.0,133.4 91.0,132.6 96.0,131.4 100.0,131.0 105.0,131.2 110.0,132.4 108.0,133.4 113.0,133.8 120.0,134.8 128.0,137.4 130.4,139.6 128.0,140.6 124.0,140.8 118.0,140.2 117.6,143.4 121.0,144.6 124.0,143.8 129.0,144.0 132.0,140.2 136.4,140.6 136.0,136.4 140.0,136.6 145.0,137.6 154.0,136.0 157.0,136.4 162.0,135.8 166.0,135.2 169.0,133.4 174.0,134.0 178.0,134.6 182.0,135.4 185.0,136.8 186.0,135.2 182.0,133.8 181.6,131.8 182.6,130.0 185.2,127.4 187.0,127.0 191.0,127.2 193.6,128.6 193.0,130.8 193.6,132.2 193.0,135.0 192.0,140.0 198.0,137.0 203.0,136.0 205.0,133.0 209.0,128.0 214.0,130.0 210.0,125.6 221.0,125.0 222.0,123.0 230.0,121.6 244.0,120.6 250.0,119.4 257.0,117.6 262.0,119.0 272.0,120.0 275.0,121.4 274.0,125.0 280.0,125.8 286.0,126.8 295.0,125.8 302.0,126.0 306.0,128.0 310.0,131.0 314.0,130.0 320.0,130.0 327.0,128.2 332.0,127.6 340.0,128.4 348.0,130.0 352.0,131.4 362.0,131.0 367.0,131.6 370.0,134.0 376.0,133.6 383.0,133.6 388.0,133.0 393.0,133.2 400.0,133.4 406.0,135.0 408.0,135.2 412.0,136.0 419.0,138.0 423.0,140.0 427.6,141.0 424.0,142.0 423.0,144.2 418.0,143.4 412.0,144.0 410.0,142.4 406.0,143.8 403.0,148.0 394.0,149.8 388.0,153.0 380.0,152.6 375.0,153.4 374.0,157.0 371.8,158.0 369.0,163.4 365.0,167.4 361.4,171.0 360.0,167.0 359.6,161.0 361.6,158.0 364.0,157.0 368.0,152.0 369.0,150.0 367.0,149.4 361.0,150.0 356.0,154.6 350.0,154.8 344.0,154.4 338.0,154.4 332.0,155.0 329.0,156.8 324.0,161.0 318.4,163.6 323.0,165.0 329.0,166.4 330.6,169.0 329.0,173.0 328.8,176.0 325.0,179.0 320.0,185.0 314.0,187.4 310.0,187.8 307.4,191.0 304.6,195.6 306.8,199.4 306.8,202.0 305.0,203.0 301.0,204.0 300.6,202.0 301.2,198.4 298.4,197.0 299.0,194.2 296.6,193.2 290.4,195.2 291.0,191.4 287.0,193.4 283.6,195.0 285.6,197.4 287.0,198.6 289.4,197.4 293.2,198.2 289.0,201.0 286.6,203.0 288.6,204.4 289.8,207.8 291.8,209.6 291.8,211.2 290.0,212.4 292.0,213.6 291.0,216.0 289.2,218.6 287.2,221.0 285.0,223.8 282.0,225.8 279.0,227.4 275.0,228.6 271.4,229.8 268.8,230.6 268.4,232.4 267.4,230.0 265.0,229.6 261.4,231.6 259.6,234.8 261.0,237.4 263.0,240.0 265.6,242.2 266.6,246.0 266.4,249.8 264.0,251.4 261.6,252.4 258.0,255.6 257.0,252.2 254.0,251.0 252.6,248.6 249.8,247.8 249.0,246.0 248.0,246.4 246.4,252.4 247.8,254.6 248.8,258.6 250.6,259.2 252.2,260.6 254.8,263.4 254.8,266.6 256.4,270.2 255.0,270.4 250.6,267.4 248.8,264.6 248.6,262.0 244.8,257.2 245.0,252.0 245.4,248.0 243.4,242.4 242.6,239.8 238.8,241.4 236.4,241.0 237.0,235.0 234.0,232.0 232.2,230.6 231.6,228.0 229.0,229.0 226.0,229.4 222.0,229.8 221.6,232.0 218.0,234.4 212.6,239.0 208.6,241.4 208.4,246.6 207.6,250.4 206.8,252.4 204.4,255.2 203.0,256.8 201.0,254.4 199.6,250.0 197.6,247.0 196.0,243.0 194.8,240.0 193.6,235.0 193.4,230.6 193.2,228.4 189.0,231.2 186.0,228.6 188.4,227.2 185.0,225.6 182.8,224.6 181.2,222.2 177.0,222.6 171.2,222.6 165.6,222.0 162.6,221.4 160.8,218.8 157.4,220.0 153.0,217.8 150.8,217.0 149.6,215.2 148.4,212.8 145.8,212.4 144.0,213.0 143.8,214.2 145.6,217.4 147.2,219.2 148.4,220.8 149.2,223.0 150.2,220.8 151.2,222.4 151.2,224.6 153.2,224.6 157.0,224.4 160.6,220.6 160.8,223.2 163.6,225.4 167.6,228.0 165.2,232.0 163.6,235.0 161.2,236.2 158.4,238.2 152.4,241.8 147.0,243.6 143.0,246.4 138.0,247.4 135.0,247.6 133.6,243.4 133.2,239.8 130.4,235.0 127.0,230.6 125.8,226.6 123.0,223.8 121.0,220.6 118.4,216.8 117.8,214.0 116.6,217.4 113.2,213.2 M832.6,210.4 836.4,210.4 837.8,208.0 839.0,205.2 839.8,202.4 840.0,201.0 839.0,199.8 836.0,200.4 833.0,200.8 829.0,200.4 826.0,199.8 822.8,199.0 820.6,196.6 821.4,194.0 820.4,192.8 820.4,191.6 816.0,191.4 815.2,192.6 813.2,192.2 813.8,194.4 816.0,196.6 814.0,197.4 813.4,198.0 814.2,200.0 812.8,200.0 811.4,199.2 810.2,197.4 811.4,196.4 809.6,195.0 808.0,193.6 806.8,192.2 807.0,189.4 805.0,188.0 802.0,186.6 799.0,185.0 797.0,182.6 795.4,181.6 792.6,182.2 792.8,184.6 795.2,186.0 797.4,189.0 800.2,190.2 805.0,192.8 804.6,193.4 802.0,192.0 801.0,193.8 802.2,195.0 800.2,197.0 799.2,196.6 799.6,194.0 797.4,191.8 795.4,190.6 792.4,189.6 790.0,188.0 789.0,186.4 787.4,184.8 784.8,184.6 783.0,185.4 780.4,186.8 777.4,186.2 774.2,186.8 774.4,189.0 772.2,190.4 769.8,191.0 768.0,193.2 767.4,194.2 768.4,195.6 766.6,197.8 763.8,199.6 759.2,199.6 756.8,201.0 755.4,199.4 753.2,198.6 750.2,199.0 750.4,195.6 749.0,194.2 750.6,190.6 750.2,187.8 749.4,187.0 752.0,185.6 758.0,186.0 764.4,186.2 765.6,181.0 763.6,178.6 759.0,177.2 758.6,175.8 765.0,175.6 764.2,173.6 768.4,174.0 771.2,172.6 771.8,171.0 775.2,170.2 777.0,168.0 778.0,166.4 782.0,165.8 785.2,165.2 785.0,162.2 784.2,159.4 787.0,158.6 789.0,157.6 788.6,160.0 789.8,160.6 787.6,163.0 789.8,164.2 792.0,164.6 796.0,165.0 800.0,164.0 805.0,163.4 807.2,164.2 810.0,162.6 810.0,160.0 811.2,158.0 813.2,157.6 816.6,158.6 815.0,155.8 817.0,154.2 824.0,154.0 827.6,153.0 824.0,152.0 821.0,152.2 814.0,153.0 810.8,151.4 811.0,148.0 815.0,145.0 818.6,142.6 817.2,141.4 812.0,141.8 810.0,144.6 806.0,146.4 803.0,148.4 802.4,151.0 805.6,153.0 804.8,154.4 801.0,157.4 800.8,160.4 796.6,162.0 793.8,162.2 793.0,160.0 791.4,157.6 790.4,155.0 789.0,154.0 787.0,155.0 784.0,156.8 781.2,156.8 779.2,155.0 778.2,152.4 778.0,150.0 779.0,148.0 783.0,146.6 787.0,145.8 790.0,143.2 793.0,141.0 796.0,138.0 799.0,136.0 802.0,134.6 806.0,133.4 811.0,132.6 816.0,131.4 820.0,131.0 825.0,131.2 830.0,132.4 828.0,133.4 833.0,133.8 840.0,134.8 848.0,137.4 850.4,139.6 848.0,140.6 844.0,140.8 838.0,140.2 837.6,143.4 841.0,144.6 844.0,143.8 849.0,144.0 852.0,140.2 856.4,140.6 856.0,136.4 860.0,136.6 865.0,137.6 874.0,136.0 877.0,136.4 882.0,135.8 886.0,135.2 889.0,133.4 894.0,134.0 898.0,134.6 902.0,135.4 905.0,136.8 906.0,135.2 902.0,133.8 901.6,131.8 902.6,130.0 905.2,127.4 907.0,127.0 911.0,127.2 913.6,128.6 913.0,130.8 913.6,132.2 913.0,135.0 912.0,140.0 918.0,137.0 923.0,136.0 925.0,133.0 929.0,128.0 934.0,130.0 930.0,125.6 941.0,125.0 942.0,123.0 950.0,121.6 964.0,120.6 970.0,119.4 977.0,117.6 982.0,119.0 992.0,120.0 995.0,121.4 994.0,125.0 1000.0,125.8 1006.0,126.8 1015.0,125.8 1022.0,126.0 1026.0,128.0 1030.0,131.0 1034.0,130.0 1040.0,130.0 1047.0,128.2 1052.0,127.6 1060.0,128.4 1068.0,130.0 1072.0,131.4 1082.0,131.0 1087.0,131.6 1090.0,134.0 1096.0,133.6 1103.0,133.6 1108.0,133.0 1113.0,133.2 1120.0,133.4 1126.0,135.0 1128.0,135.2 1132.0,136.0 1139.0,138.0 1143.0,140.0 1147.6,141.0 1144.0,142.0 1143.0,144.2 1138.0,143.4 1132.0,144.0 1130.0,142.4 1126.0,143.8 1123.0,148.0 1114.0,149.8 1108.0,153.0 1100.0,152.6 1095.0,153.4 1094.0,157.0 1091.8,158.0 1089.0,163.4 1085.0,167.4 1081.4,171.0 1080.0,167.0 1079.6,161.0 1081.6,158.0 1084.0,157.0 1088.0,152.0 1089.0,150.0 1087.0,149.4 1081.0,150.0 1076.0,154.6 1070.0,154.8 1064.0,154.4 1058.0,154.4 1052.0,155.0 1049.0,156.8 1044.0,161.0 1038.4,163.6 1043.0,165.0 1049.0,166.4 1050.6,169.0 1049.0,173.0 1048.8,176.0 1045.0,179.0 1040.0,185.0 1034.0,187.4 1030.0,187.8 1027.4,191.0 1024.6,195.6 1026.8,199.4 1026.8,202.0 1025.0,203.0 1021.0,204.0 1020.6,202.0 1021.2,198.4 1018.4,197.0 1019.0,194.2 1016.6,193.2 1010.4,195.2 1011.0,191.4 1007.0,193.4 1003.6,195.0 1005.6,197.4 1007.0,198.6 1009.4,197.4 1013.2,198.2 1009.0,201.0 1006.6,203.0 1008.6,204.4 1009.8,207.8 1011.8,209.6 1011.8,211.2 1010.0,212.4 1012.0,213.6 1011.0,216.0 1009.2,218.6 1007.2,221.0 1005.0,223.8 1002.0,225.8 999.0,227.4 995.0,228.6 991.4,229.8 988.8,230.6 988.4,232.4 987.4,230.0 985.0,229.6 981.4,231.6 979.6,234.8 981.0,237.4 983.0,240.0 985.6,242.2 986.6,246.0 986.4,249.8 984.0,251.4 981.6,252.4 978.0,255.6 977.0,252.2 974.0,251.0 972.6,248.6 969.8,247.8 969.0,246.0 968.0,246.4 966.4,252.4 967.8,254.6 968.8,258.6 970.6,259.2 972.2,260.6 974.8,263.4 974.8,266.6 976.4,270.2 975.0,270.4 970.6,267.4 968.8,264.6 968.6,262.0 964.8,257.2 965.0,252.0 965.4,248.0 963.4,242.4 962.6,239.8 958.8,241.4 956.4,241.0 957.0,235.0 954.0,232.0 952.2,230.6 951.6,228.0 949.0,229.0 946.0,229.4 942.0,229.8 941.6,232.0 938.0,234.4 932.6,239.0 928.6,241.4 928.4,246.6 927.6,250.4 926.8,252.4 924.4,255.2 923.0,256.8 921.0,254.4 919.6,250.0 917.6,247.0 916.0,243.0 914.8,240.0 913.6,235.0 913.4,230.6 913.2,228.4 909.0,231.2 906.0,228.6 908.4,227.2 905.0,225.6 902.8,224.6 901.2,222.2 897.0,222.6 891.2,222.6 885.6,222.0 882.6,221.4 880.8,218.8 877.4,220.0 873.0,217.8 870.8,217.0 869.6,215.2 868.4,212.8 865.8,212.4 864.0,213.0 863.8,214.2 865.6,217.4 867.2,219.2 868.4,220.8 869.2,223.0 870.2,220.8 871.2,222.4 871.2,224.6 873.2,224.6 877.0,224.4 880.6,220.6 880.8,223.2 883.6,225.4 887.6,228.0 885.2,232.0 883.6,235.0 881.2,236.2 878.4,238.2 872.4,241.8 867.0,243.6 863.0,246.4 858.0,247.4 855.0,247.6 853.6,243.4 853.2,239.8 850.4,235.0 847.0,230.6 845.8,226.6 843.0,223.8 841.0,220.6 838.4,216.8 837.8,214.0 836.6,217.4 833.2,213.2 M645.4,375.6 652.0,375.6 652.6,376.4 650.0,377.6 646.0,377.0 645.4,375.6 M402.6,308.0 405.2,307.6 405.0,309.4 402.6,308.0 M142.0,112.6 152.0,112.8 164.0,112.2 172.0,111.2 168.0,109.4 158.0,109.8 148.0,111.0 142.0,112.6 M287.6,290.2 290.0,289.6 294.0,289.4 293.6,290.4 289.0,290.8 287.6,290.2 M585.0,273.6 587.0,274.6 589.0,274.8 M36.6,172.8 41.0,172.4 46.0,171.6 50.8,170.6 51.4,167.6 48.6,166.2 47.8,164.8 45.0,162.4 44.0,161.0 44.4,158.0 41.0,157.6 42.0,155.8 38.0,155.8 36.6,158.0 36.8,160.0 37.8,161.8 38.4,163.2 40.8,164.2 42.2,165.4 42.0,166.4 39.6,167.4 37.6,169.4 39.6,170.6 36.6,172.8 M756.6,172.8 761.0,172.4 766.0,171.6 770.8,170.6 771.4,167.6 768.6,166.2 767.8,164.8 765.0,162.4 764.0,161.0 764.4,158.0 761.0,157.6 762.0,155.8 758.0,155.8 756.6,158.0 756.8,160.0 757.8,161.8 758.4,163.2 760.8,164.2 762.2,165.4 762.0,166.4 759.6,167.4 757.6,169.4 759.6,170.6 756.6,172.8 M622.0,116.0 632.0,112.0 644.0,109.4 668.0,108.0 688.0,106.2 708.0,106.0 728.0,109.0 744.0,110.0 732.0,113.0 732.0,118.0 729.0,123.0 724.0,128.0 720.0,132.0 716.0,136.0 704.0,137.0 698.0,141.0 691.0,142.0 687.0,145.0 684.0,150.0 681.0,153.0 678.0,152.6 673.0,151.0 669.0,149.0 666.0,145.0 663.0,142.0 661.0,139.4 662.0,136.0 666.0,134.0 659.0,132.0 658.0,129.0 655.0,124.0 650.0,121.4 642.0,120.4 632.0,120.0 626.0,118.0 622.0,116.0 M265.2,234.6 266.0,236.2 268.0,236.6 270.0,233.8 268.8,232.8 266.4,233.2 265.2,234.6 M303.0,269.4 305.0,270.0 304.0,272.0 305.0,274.0 303.6,273.6 303.0,269.4 M456.0,232.6 458.0,233.4 457.0,235.0 456.0,234.0 456.0,232.6 M451.4,229.8 452.8,230.4 M448.4,228.6 449.4,229.0 M619.2,236.0 622.4,233.2 628.0,233.4 631.4,235.8 628.0,236.6 625.2,237.8 619.2,236.0 M328.0,190.0 330.4,189.4 331.0,187.8 334.6,189.0 339.2,186.4 338.4,184.6 335.0,184.6 331.6,182.0 331.0,185.0 330.6,186.4 328.6,186.6 328.0,190.0 M309.8,205.0 313.0,202.2 319.0,202.0 320.0,200.0 322.0,199.0 326.0,197.4 328.0,194.0 328.0,192.0 330.4,190.6 331.2,192.4 332.0,194.0 330.0,196.4 329.8,199.0 329.0,201.0 329.6,201.6 327.6,203.0 326.0,203.2 322.0,203.8 320.0,206.0 318.4,205.4 317.4,203.6 313.0,204.4 309.8,205.0 M723.0,145.2 726.0,145.4 732.0,146.2 739.0,144.2 741.0,142.6 738.4,140.4 735.0,140.0 731.0,140.6 726.0,142.0 723.2,140.2 719.4,142.0 720.0,143.4 723.0,145.2 M756.0,168.6 755.8,166.4 757.0,164.0 755.6,162.6 753.4,162.4 751.4,162.6 750.8,164.4 748.0,164.6 748.2,166.2 747.6,169.2 749.0,169.8 752.0,169.4 756.0,168.6 M611.4,236.2 615.6,236.8 614.4,237.4 611.4,236.2 M258.4,286.6 260.2,284.8 264.6,285.6 268.8,286.8 273.2,286.8 276.8,288.6 277.0,290.4 270.0,289.4 265.0,288.6 260.8,287.8 258.4,286.6 M186.0,370.6 189.0,371.4 187.0,372.4 186.0,370.6 M570.0,135.4 576.0,136.0 577.0,134.0 572.0,133.4 570.0,135.4 M459.0,158.6 463.0,158.0 462.4,157.0 459.6,157.0 459.0,158.6 M340.0,185.4 344.0,183.0 348.0,181.0 352.0,178.0 356.0,175.0 359.0,172.4 M307.6,206.4 309.8,205.2 311.8,206.8 310.6,210.2 308.6,210.6 308.4,208.0 307.6,206.4 M289.2,236.0 292.4,236.0 292.2,240.4 291.0,242.0 292.0,244.8 296.0,247.0 295.0,245.8 291.0,245.8 289.2,244.2 288.0,240.0 289.2,236.0 M146.6,297.0 148.8,304.0 147.6,307.0 145.2,314.0 143.0,322.4 138.4,324.0 135.6,320.0 134.6,316.0 136.8,312.0 136.0,307.0 141.0,304.6 144.0,300.0 146.6,297.0 M339.4,242.6 337.4,246.2 M162.8,313.0 163.6,313.8 M560.0,123.0 548.0,124.0 534.0,122.0 540.0,120.0 556.0,121.0 560.0,123.0 M596.0,140.0 600.0,138.0 604.0,134.4 599.0,133.4 596.0,136.0 596.0,140.0 M292.0,259.0 295.0,257.4 299.0,253.6 301.0,258.6 299.4,261.4 296.0,260.6 292.0,259.0 M345.0,284.0 349.6,284.0 352.0,281.4 351.0,283.6 348.0,285.6 345.0,284.0 M376.0,313.4 382.0,317.6 381.0,318.0 375.2,314.0 376.0,313.4 M649.4,177.8 656.0,177.8 661.0,179.6 662.8,178.0 661.0,174.4 656.6,173.4 657.0,169.8 653.0,171.6 649.2,176.0 649.4,177.8 M310.0,275.8 313.0,273.8 316.0,274.8 318.0,279.6 323.0,276.0 330.0,278.2 337.0,280.6 339.6,283.8 343.2,285.2 342.2,287.8 345.0,291.0 348.6,293.6 343.0,293.2 340.0,289.6 336.0,288.4 334.8,290.6 330.0,291.2 325.0,289.8 323.4,284.0 319.0,281.8 314.0,281.0 312.4,278.8 315.6,278.0 312.0,277.2 310.0,275.8 M153.0,130.4 159.0,131.6 163.4,131.8 160.0,129.0 159.6,126.4 164.0,123.8 170.0,121.6 180.0,120.0 186.0,119.2 180.0,119.0 170.0,120.6 164.0,122.4 158.6,125.4 155.0,127.2 153.0,130.4 M324.0,124.0 332.0,125.4 340.0,123.0 348.0,122.4 344.0,121.0 332.0,121.0 324.0,122.0 324.0,124.0 M393.4,341.8 396.6,344.2 398.6,347.0 404.6,348.2 403.8,351.4 401.8,352.2 398.4,356.2 397.2,355.6 398.4,353.2 395.6,351.4 397.2,347.6 393.4,341.8 M393.4,354.0 396.6,356.4 395.0,358.8 393.4,360.4 390.4,361.8 389.6,364.8 386.0,366.2 381.0,365.0 381.4,363.4 384.6,361.0 389.0,359.0 391.2,356.4 393.4,354.0 M580.0,129.0 572.0,130.4 567.0,127.0 574.0,125.0 582.0,125.0 580.0,129.0 M524.0,121.0 534.0,120.4 536.0,118.6 526.0,118.0 524.0,121.0 M633.6,236.2 636.8,236.4 636.0,237.0 633.6,236.2 M158.6,315.0 159.6,315.4 M560.0,118.0 568.0,117.4 570.0,115.4 562.0,115.4 560.0,118.0 M332.0,181.0 335.0,180.0 334.6,174.4 337.4,175.2 334.6,172.0 334.4,167.4 333.4,164.4 332.6,166.0 331.4,166.4 332.4,169.4 331.6,176.0 332.0,181.0 M423.0,300.2 425.0,301.0 M64.4,191.4 67.4,191.0 67.2,194.8 64.8,195.0 64.4,191.4 M304.0,279.6 309.0,279.4 309.6,280.6 305.0,280.2 304.0,279.6 M238.0,116.0 248.0,115.0 258.0,116.0 254.0,113.4 248.0,111.0 238.0,112.0 234.0,114.0 238.0,116.0 M692.0,381.0 696.0,381.6 696.4,382.6 M313.0,207.0 314.0,205.0 317.2,204.6 317.4,205.4 315.8,206.0 314.0,207.4 313.0,207.0 M72.8,196.8 79.2,196.6 78.2,199.6 72.8,196.8 M362.0,289.0 366.0,290.0 369.0,292.0 371.0,293.0 M578.0,128.0 586.0,129.0 588.0,126.0 582.0,124.8 578.0,126.0 578.0,128.0 M596.0,146.0 606.0,145.0 604.0,143.0 596.0,141.0 593.0,144.0 596.0,146.0 M207.8,253.8 208.8,253.4 211.8,257.8 210.4,260.6 208.2,261.0 207.4,257.0 207.8,253.8 M286.8,284.2 288.8,284.2 288.6,278.8 290.4,282.4 293.6,282.4 290.6,276.8 294.6,274.8 290.2,274.8 288.2,271.8 290.0,270.4 297.8,269.8 288.2,271.2 287.2,273.6 285.6,278.4 286.8,284.2 M238.4,261.8 243.0,262.6 248.6,268.4 251.0,269.6 255.6,275.0 257.0,276.8 260.0,279.0 259.6,284.6 257.0,284.8 252.6,281.0 250.0,277.8 246.0,273.0 245.2,269.4 241.0,265.6 238.4,261.8 M279.6,289.8 281.0,289.4 286.0,289.6 286.0,290.6 281.0,291.0 279.6,289.8 M70.0,116.0 75.0,117.0 80.0,119.8 84.0,118.0 91.0,116.4 102.0,114.6 98.0,112.4 88.0,112.0 80.0,113.0 70.0,113.6 70.0,116.0 M468.4,308.0 469.6,308.6 M288.2,227.0 289.8,229.0 291.0,227.0 292.0,223.0 291.0,222.4 289.4,224.2 288.2,227.0 M337.2,354.4 341.2,355.2 344.6,354.8 344.0,359.0 341.6,360.2 339.0,358.6 337.2,354.4 M295.0,293.6 297.0,291.4 301.8,289.6 302.4,290.0 298.2,292.0 295.0,293.6 M512.0,172.0 517.0,172.4 521.0,176.2 518.0,175.4 514.0,173.6 512.0,172.0 M382.0,303.0 382.6,305.0 384.0,306.0 M566.0,135.0 558.0,135.4 548.0,135.8 538.0,134.6 532.0,132.4 534.0,131.0 531.0,128.4 542.0,127.0 552.0,127.0 558.0,130.0 566.0,133.0 566.0,135.0 M292.0,252.0 294.0,250.0 296.0,251.0 298.0,248.0 299.0,251.0 297.0,253.0 294.0,254.0 292.0,252.0 M405.0,130.8 411.0,130.4 408.0,129.8 405.0,130.8"/></g>
</g>

<path d="M634,93 h2 v9 h-2z" fill="#fff"/>
<path d="M637,97.5 H655 M637.5,97.5 L641.7,94.3 M637.5,97.5 L641.7,100.7" stroke="#fff" stroke-width="1" fill="none"/>
<!-- axis ticks -->
<g stroke="#000" stroke-width="1">
<path d="M48.5,89 v3 M168.5,89 v3 M288.5,89 v3 M408.5,89 v3 M528.5,89 v3 M648.5,89 v3 M768.5,89 v3"/>
<path d="M48.5,454 v3 M168.5,454 v3 M288.5,454 v3 M408.5,454 v3 M528.5,454 v3 M648.5,454 v3 M768.5,454 v3"/>
<path d="M44,153.5 h3 M44,213.5 h3 M44,273.5 h3 M44,333.5 h3 M44,393.5 h3"/>
<path d="M769,153.5 h3 M769,213.5 h3 M769,273.5 h3 M769,333.5 h3 M769,393.5 h3"/>
</g>
<g font-weight="bold" font-size="12" fill="#000" text-anchor="end">
<text x="40.5" y="158">60N</text>
<text x="40.5" y="217.8">30N</text>
<text x="40.5" y="277.8">EQ</text>
<text x="40.5" y="337.8">30S</text>
<text x="40.5" y="397.8">60S</text>
</g>
<g font-weight="bold" font-size="12" fill="#000" text-anchor="middle">
<text x="48.5" y="467">0</text>
<text x="168.5" y="467">60E</text>
<text x="288.5" y="467">120E</text>
<text x="408.5" y="467">180</text>
<text x="528.5" y="467">120W</text>
<text x="648.5" y="467">60W</text>
<text x="768.5" y="467">0</text>
</g>

<!-- colorbar -->
<text x="782" y="97" font-size="12" fill="#000">(C)</text>
<text x="805" y="97" font-size="12" fill="#000">Tb</text>
<text x="826" y="97" font-size="12" fill="#000">(K)</text>
<rect x="807.5" y="104.5" width="11" height="381" fill="url(#cb)" stroke="#000" stroke-width="1"/>
<g stroke="#000" stroke-width="1"><path d="M804,130.5 h6 M804,167.5 h6 M804,203.5 h6 M804,239.5 h6 M804,275.5 h6 M804,311.5 h6 M804,347.5 h6 M804,383.5 h6 M804,419.5 h6 M804,456.5 h6 M816,105.5 h6 M816,142.5 h6 M816,178.5 h6 M816,214.5 h6 M816,250.5 h6 M816,286.5 h6 M816,322.5 h6 M816,359.5 h6 M816,395.5 h6 M816,431.5 h6 M816,467.5 h6 "/></g>
<g font-size="11" fill="#000" text-anchor="end"><text x="800" y="135.9">20</text><text x="800" y="172.1">10</text><text x="800" y="208.2">0</text><text x="800" y="244.3">-10</text><text x="800" y="280.4">-20</text><text x="800" y="316.5">-30</text><text x="800" y="352.7">-40</text><text x="800" y="388.8">-50</text><text x="800" y="424.9">-60</text><text x="800" y="461.0">-70</text></g><g font-size="11" fill="#000" letter-spacing="-0.8"><text x="823" y="109.7">300</text><text x="823" y="147.5">290</text><text x="823" y="183.6">280</text><text x="823" y="219.8">270</text><text x="823" y="255.9">260</text><text x="823" y="292.0">250</text><text x="823" y="328.1">240</text><text x="823" y="364.2">230</text><text x="823" y="400.4">220</text><text x="823" y="436.5">210</text><text x="823" y="472.6">200</text></g>

<text x="218.5" y="490" font-size="12.15" fill="#000">Copyright © 2025 The University of Alabama in Huntsville.&#160; All rights reserved</text>
</svg>
</body></html>
